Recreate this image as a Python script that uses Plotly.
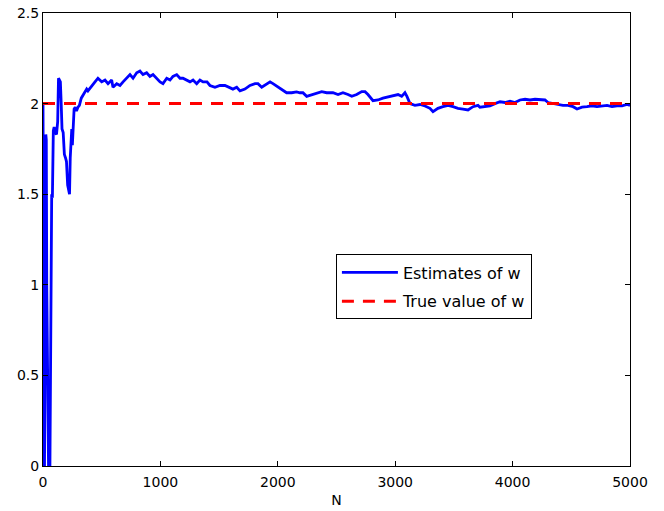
import plotly.graph_objects as go

# Estimates of w versus N
n_est = [0, 3, 8, 12, 16, 20, 24, 28, 32, 40, 50, 58, 66, 74, 80, 88, 95, 105, 115, 125,
         132, 140, 148, 155, 162, 172, 182, 192, 200, 210, 218, 226, 232, 238, 245, 250,
         258, 265, 275, 285, 298, 310, 326, 358, 372, 383, 415, 443, 468, 500, 528, 554,
         585, 596, 628, 656, 682, 713, 741, 767, 798, 826, 852, 883, 911, 937, 968, 997,
         1022, 1054, 1082, 1107, 1139, 1167, 1192, 1224, 1252, 1278, 1309, 1337, 1363,
         1397, 1422, 1465, 1507, 1550, 1593, 1618, 1650, 1678, 1720, 1763, 1806, 1831,
         1863, 1891, 1934, 1959, 2002, 2044, 2075, 2118, 2160, 2189, 2214, 2246, 2289,
         2331, 2374, 2416, 2470, 2513, 2555, 2598, 2630, 2672, 2715, 2743, 2768, 2811,
         2853, 2896, 2956, 2998, 3024, 3055, 3083, 3100, 3126, 3168, 3211, 3254, 3296,
         3322, 3364, 3407, 3450, 3492, 3535, 3577, 3620, 3663, 3705, 3722, 3765, 3807,
         3850, 3893, 3935, 3978, 4020, 4063, 4106, 4148, 4191, 4233, 4276, 4302, 4344,
         4387, 4429, 4472, 4515, 4549, 4591, 4634, 4676, 4719, 4762, 4804, 4847, 4889,
         4932, 4975, 5000]
w_est = [2.0, 1.5, 0.9, -0.1, 0.4, 1.2, 1.83, 1.8, 1.0, 0.2, -0.2, -0.1, 0.9, 1.5, 1.48,
         1.85, 1.87, 1.84, 1.83, 1.9, 2.14, 2.13, 2.12, 2.0, 1.86, 1.84, 1.72, 1.70, 1.68,
         1.55, 1.51, 1.50, 1.7, 1.83, 1.86, 1.77, 1.90, 1.97, 1.98, 1.96, 1.98, 1.99, 2.03,
         2.06, 2.08, 2.07, 2.10, 2.12, 2.14, 2.12, 2.13, 2.11, 2.13, 2.09, 2.11, 2.10, 2.12,
         2.14, 2.16, 2.14, 2.17, 2.18, 2.16, 2.17, 2.15, 2.16, 2.14, 2.12, 2.11, 2.14, 2.13,
         2.15, 2.16, 2.14, 2.14, 2.13, 2.12, 2.13, 2.11, 2.13, 2.12, 2.12, 2.10, 2.09, 2.10,
         2.10, 2.09, 2.08, 2.09, 2.07, 2.08, 2.10, 2.11, 2.11, 2.09, 2.10, 2.12, 2.11, 2.09,
         2.07, 2.06, 2.06, 2.065, 2.06, 2.06, 2.04, 2.05, 2.06, 2.066, 2.06, 2.06, 2.05,
         2.06, 2.05, 2.04, 2.05, 2.066, 2.066, 2.05, 2.016, 2.02, 2.03, 2.04, 2.045, 2.05,
         2.04, 2.06, 2.04, 2.00, 1.99, 1.995, 1.987, 1.974, 1.955, 1.974, 1.983, 1.99,
         1.983, 1.974, 1.97, 1.965, 1.983, 1.99, 1.98, 1.983, 1.988, 2.00, 2.01, 2.006,
         2.013, 2.006, 2.02, 2.024, 2.02, 2.024, 2.02, 2.02, 2.006, 2.0, 1.995, 1.99, 1.99,
         1.983, 1.97, 1.98, 1.983, 1.988, 1.983, 1.988, 1.99, 1.983, 1.988, 1.988, 1.995,
         1.99]

# True value of w
n_true = [0, 5000]
w_true = [2.0, 2.0]

x_ticks = [0, 1000, 2000, 3000, 4000, 5000]
y_ticks = [0, 0.5, 1, 1.5, 2, 2.5]
y_tick_text = ["0", "0.5", "1", "1.5", "2", "2.5"]

fig = go.Figure()
fig.add_trace(go.Scatter(x=n_est, y=w_est, mode="lines", name="Estimates of w",
                         legendgroup="a",
                         line=dict(color="#0000ff", width=2.8)))
fig.add_trace(go.Scatter(x=n_true, y=w_true, mode="lines", name="True value of w",
                         legendgroup="b",
                         line=dict(color="#ff0000", width=3, dash="12px,9px")))

axis_common = dict(showgrid=False, zeroline=False, showline=True, linecolor="black",
                   linewidth=1, mirror="ticks", ticks="inside", ticklen=5,
                   tickcolor="black", automargin=False,
                   tickfont=dict(family="DejaVu Sans", size=14, color="black"))

fig.update_xaxes(range=[0, 5000], tickvals=x_ticks, ticktext=[str(v) for v in x_ticks],
                 ticklabelstandoff=3,
                 title=dict(text="N", font=dict(family="DejaVu Sans", size=14, color="black"),
                            standoff=6), **axis_common)
fig.update_yaxes(range=[0, 2.5], tickvals=y_ticks, ticktext=y_tick_text, **axis_common)

fig.update_layout(
    width=664, height=511,
    margin=dict(l=43, r=34, t=13, b=45),
    paper_bgcolor="white", plot_bgcolor="white",
    showlegend=True,
    legend=dict(x=0.499, y=0.467, xanchor="left", yanchor="top",
                bgcolor="white", bordercolor="black", borderwidth=1,
                font=dict(family="DejaVu Sans", size=16, color="black"),
                itemwidth=56, tracegroupgap=5),
)

fig.write_html("out.html")
